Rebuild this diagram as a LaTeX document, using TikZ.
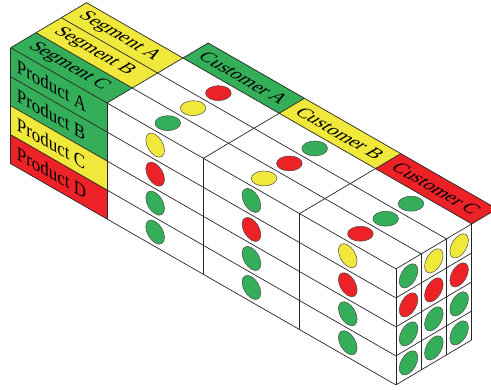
\documentclass[tikz,border=0pt]{standalone}
\usepackage{fontspec}
\setmainfont{Liberation Serif}
\definecolor{cgreen}{RGB}{52,174,88}
\definecolor{cyellow}{RGB}{240,232,58}
\definecolor{cred}{RGB}{236,34,38}
\tikzset{
  gridline/.style={draw=black!85, line width=0.7pt, line join=round},
  dotstyle/.style={draw=black!70, line width=0.5pt},
  lbl/.style={font=\fontsize{19.5}{19.5}\selectfont, inner sep=0pt, transform shape},
  frontcm/.style={cm={0.867,-0.498,0,1,(0,0)}},
  topcm/.style={cm={0.867,-0.498,0.860,0.510,(0,0)}},
  sidecm/.style={cm={0.860,0.510,0,1,(0,0)}},
}
% front face dot: customer i, product k, colour
\newcommand\frontdot[3]{%
  \begin{scope}[shift={(#1+0.5,0,-#2-0.5)}, frontcm]
    \path[dotstyle, fill=#3] (0pt,0pt) circle (10.8pt);
  \end{scope}}
% top face dot: customer i, segment j (0 = front), colour
\newcommand\topdot[3]{%
  \begin{scope}[shift={(#1+0.5,#2+0.5,0)}, topcm]
    \path[dotstyle, fill=#3] (0pt,0pt) circle (10.5pt);
  \end{scope}}
% side face dot: segment j, product k, colour
\newcommand\sidedot[3]{%
  \begin{scope}[shift={(3,#1+0.5,-#2-0.5)}, sidecm]
    \path[dotstyle, fill=#3] (0pt,0pt) circle (10.8pt);
  \end{scope}}
\begin{document}
\begin{tikzpicture}
\useasboundingbox (0pt,0pt) rectangle (491pt,-390pt);
\clip (0pt,0pt) rectangle (491pt,-390pt);
\begin{scope}[shift={(107pt,-103pt)}, x={(96.3pt,-55.3pt)}, y={(25.3pt,15pt)}, z={(0pt,29pt)}]
  % product labels (front face, left)
  \foreach \k/\c in {0/cgreen,1/cgreen,2/cyellow,3/cred}{
    \fill[\c] (-1,0,-\k) -- (0,0,-\k) -- (0,0,-\k-1) -- (-1,0,-\k-1) -- cycle;}
  % segment labels (top face, left)
  \foreach \j/\c in {0/cgreen,1/cyellow,2/cyellow}{
    \fill[\c] (-1,\j,0) -- (0,\j,0) -- (0,\j+1,0) -- (-1,\j+1,0) -- cycle;}
  % customer labels (top face, back)
  \foreach \i/\c in {0/cgreen,1/cyellow,2/cred}{
    \fill[\c] (\i,3,0) -- (\i+1,3,0) -- (\i+1,4,0) -- (\i,4,0) -- cycle;}

  % front face lines
  \foreach \k in {0,...,4}{
    \draw[gridline] (-1,0,-\k) -- (3,0,-\k);}
  \foreach \i in {-1,...,3}{
    \draw[gridline] (\i,0,0) -- (\i,0,-4);}
  % top face lines
  \foreach \j in {1,2,3}{
    \draw[gridline] (-1,\j,0) -- (3,\j,0);}
  \draw[gridline] (0,4,0) -- (3,4,0);
  \draw[gridline] (-1,0,0) -- (-1,3,0);
  \foreach \i in {0,...,3}{
    \draw[gridline] (\i,0,0) -- (\i,4,0);}
  % right face lines
  \foreach \k in {1,...,4}{
    \draw[gridline] (3,0,-\k) -- (3,3,-\k);}
  \foreach \j in {1,2,3}{
    \draw[gridline] (3,\j,0) -- (3,\j,-4);}

  % top face dots
  \topdot{0}{0}{cgreen}  \topdot{0}{1}{cyellow} \topdot{0}{2}{cred}
  \topdot{1}{0}{cyellow} \topdot{1}{1}{cred}    \topdot{1}{2}{cgreen}
  \topdot{2}{0}{cred}    \topdot{2}{1}{cgreen}  \topdot{2}{2}{cgreen}
  % front face dots
  \frontdot{0}{0}{cyellow} \frontdot{0}{1}{cred} \frontdot{0}{2}{cgreen} \frontdot{0}{3}{cgreen}
  \frontdot{1}{0}{cgreen}  \frontdot{1}{1}{cred} \frontdot{1}{2}{cgreen} \frontdot{1}{3}{cgreen}
  \frontdot{2}{0}{cyellow} \frontdot{2}{1}{cred} \frontdot{2}{2}{cgreen} \frontdot{2}{3}{cgreen}
  % right face dots
  \sidedot{0}{0}{cgreen}  \sidedot{0}{1}{cred} \sidedot{0}{2}{cgreen} \sidedot{0}{3}{cgreen}
  \sidedot{1}{0}{cyellow} \sidedot{1}{1}{cred} \sidedot{1}{2}{cgreen} \sidedot{1}{3}{cgreen}
  \sidedot{2}{0}{cyellow} \sidedot{2}{1}{cred} \sidedot{2}{2}{cgreen} \sidedot{2}{3}{cgreen}

  % product texts
  \foreach \k/\t in {0/A,1/B,2/C,3/D}{
    \begin{scope}[shift={(-1,0,-\k-0.5)}, frontcm]
      \node[lbl, anchor=west] (prod\t) at (7pt,0pt) {Product \t};
    \end{scope}}
  % segment texts
  \foreach \j/\t in {0/C,1/B,2/A}{
    \begin{scope}[shift={(-0.5,\j+0.5,0)}, topcm]
      \node[lbl] (seg\t) at (-3pt,0pt) {Segment \t};
    \end{scope}}
  % customer texts
  \foreach \i/\t in {0/A,1/B,2/C}{
    \begin{scope}[shift={(\i+0.5,3.5,0)}, topcm]
      \node[lbl] (cust\t) at (0pt,0pt) {Customer \t};
    \end{scope}}
\end{scope}
\end{tikzpicture}
\end{document}
